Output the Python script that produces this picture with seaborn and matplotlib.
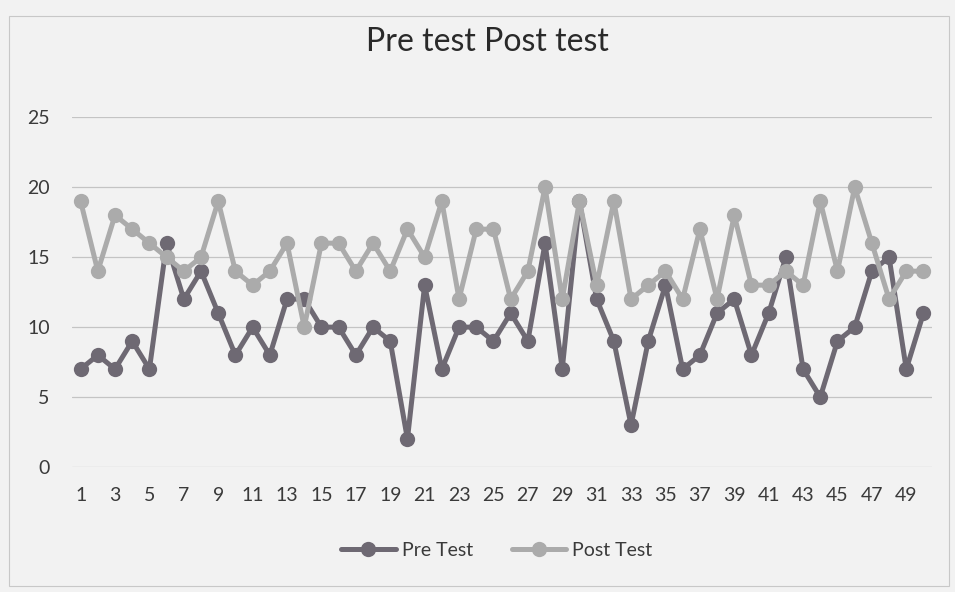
import pandas as pd
import numpy as np
import matplotlib
matplotlib.use("Agg")
import matplotlib.pyplot as plt
import seaborn as sns

# scores
students = list(range(1, 51))
pre_test = [7, 8, 7, 9, 7, 16, 12, 14, 11, 8,
            10, 8, 12, 12, 10, 10, 8, 10, 9, 2,
            13, 7, 10, 10, 9, 11, 9, 16, 7, 19,
            12, 9, 3, 9, 13, 7, 8, 11, 12, 8,
            11, 15, 7, 5, 9, 10, 14, 15, 7, 11]
post_test = [19, 14, 18, 17, 16, 15, 14, 15, 19, 14,
             13, 14, 16, 10, 16, 16, 14, 16, 14, 17,
             15, 19, 12, 17, 17, 12, 14, 20, 12, 19,
             13, 19, 12, 13, 14, 12, 17, 12, 18, 13,
             13, 14, 13, 19, 14, 20, 16, 12, 14, 14]
series_names = ["Pre Test", "Post Test"]
y_ticks = [0, 5, 10, 15, 20, 25]

df = pd.DataFrame({
    "student": students * 2,
    "score": pre_test + post_test,
    "test": [series_names[0]] * 50 + [series_names[1]] * 50,
})

bg = "#f2f2f2"
sns.set_theme(style="white")
plt.rcParams["font.family"] = ["Lato", "DejaVu Sans"]

fig = plt.figure(figsize=(9.55, 5.92), dpi=100, facecolor=bg)
ax = fig.add_axes([0.0754, 0.211, 0.9006, 0.591])
ax.set_facecolor(bg)

sns.lineplot(data=df, x="student", y="score", hue="test",
             palette={"Pre Test": "#6e6973", "Post Test": "#ababab"},
             style="test", markers={"Pre Test": "o", "Post Test": "o"},
             dashes=False, linewidth=3.6, markersize=11, markeredgewidth=0,
             legend=True, ax=ax)

ax.set_xlim(0.5, 50.5)
ax.set_ylim(0, 25)
ax.set_yticks(y_ticks)
ax.set_xticks(students[::2])
ax.tick_params(axis="both", length=0, labelsize=14, colors="#3a3a3a")
ax.tick_params(axis="y", pad=16)
ax.tick_params(axis="x", pad=14)
ax.grid(axis="y", color="#c4c4c4", linewidth=0.9)
ax.set_axisbelow(True)
for s in ax.spines.values():
    s.set_visible(False)
ax.set_xlabel("")
ax.set_ylabel("")

fig.suptitle("Pre test Post test", x=0.51, y=0.955, fontsize=23, color="#2a2a2a")

handles, labels = ax.get_legend_handles_labels()
ax.get_legend().remove()
fig.legend(handles, labels, loc="center", bbox_to_anchor=(0.52, 0.07), ncol=2,
           frameon=False, fontsize=14, handlelength=2.8, columnspacing=2.0,
           handletextpad=0.3, labelcolor="#3a3a3a")

# chart border
fig.add_artist(plt.Rectangle((0.009, 0.01), 0.985, 0.963, transform=fig.transFigure,
                             fill=False, edgecolor="#c8c8c8", linewidth=0.8))

fig.savefig("out.png", dpi=100, facecolor=bg)
